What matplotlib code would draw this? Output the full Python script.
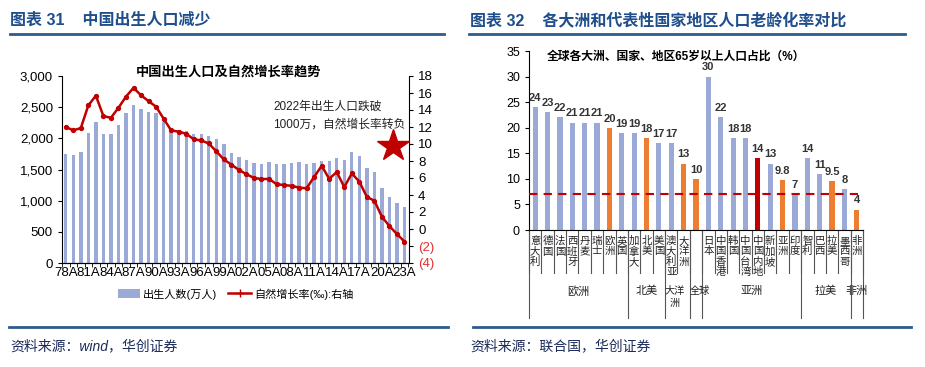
import matplotlib
matplotlib.use("Agg")
import matplotlib.pyplot as plt
from matplotlib.lines import Line2D
from matplotlib.patches import Patch
import numpy as np

plt.rcParams['font.family'] = ['Liberation Sans', 'Noto Sans CJK SC', 'DejaVu Sans']
plt.rcParams['axes.unicode_minus'] = False

# ---------------- data: left chart ----------------
years = list(range(1978, 2024))
births = [1741, 1725, 1784, 2079, 2261, 2063, 2063, 2218, 2405, 2539,
          2470, 2427, 2400, 2258, 2125, 2132, 2110, 2063, 2067, 2038,
          1991, 1909, 1771, 1702, 1647, 1599, 1593, 1617, 1584, 1594,
          1608, 1615, 1588, 1600, 1635, 1640, 1683, 1655, 1786, 1723,
          1523, 1465, 1202, 1062, 956, 902]
growth = [12.00, 11.61, 11.87, 14.55, 15.68, 13.29, 13.08, 14.26, 15.57, 16.61,
          15.73, 15.04, 14.39, 12.98, 11.60, 11.45, 11.21, 10.55, 10.42, 10.06,
          9.14, 8.18, 7.58, 6.95, 6.45, 6.01, 5.87, 5.89, 5.28, 5.17,
          5.08, 4.87, 4.79, 6.13, 7.43, 5.90, 6.71, 4.93, 6.53, 5.58,
          3.78, 3.32, 1.45, 0.34, -0.60, -1.48]
left_yticks = [0, 500, 1000, 1500, 2000, 2500, 3000]
right_yticks = [-4, -2, 0, 2, 4, 6, 8, 10, 12, 14, 16, 18]

# ---------------- data: right chart ----------------
countries = ['意大利', '德国', '法国', '西班牙', '丹麦', '瑞士', '欧洲', '英国',
             '加拿大', '北美', '美国', '澳大利亚', '大洋洲', '',
             '日本', '中国香港', '韩国', '中国台湾', '中国内地', '新加坡', '亚洲', '印度',
             '智利', '巴西', '拉美', '墨西哥', '非洲']
aging = [24, 23, 22, 21, 21, 21, 20, 19, 19, 18, 17, 17, 13, 10,
         30, 22, 18, 18, 14, 13, 9.8, 7, 14, 11, 9.5, 8, 4]
value_labels = ['24', '23', '22', '21', '21', '21', '20', '19', '19', '18', '17', '17', '13', '10',
                '30', '22', '18', '18', '14', '13', '9.8', '7', '14', '11', '9.5', '8', '4']
bar_kind = ['c', 'c', 'c', 'c', 'c', 'c', 'r', 'c', 'c', 'r', 'c', 'c', 'r', 'r',
            'c', 'c', 'c', 'c', 'cn', 'c', 'r', 'c', 'c', 'c', 'r', 'c', 'r']
groups = ['欧洲', '北美', '大洋\n洲', '全球', '亚洲', '拉美', '非洲']
group_sizes = [8, 3, 2, 1, 8, 4, 1]
global_avg = 7

BLUE = '#9AA9D6'
ORANGE = '#ED7D31'
RED = '#C00000'
NAVY = '#1F4E8C'

fig = plt.figure(figsize=(9.25, 3.67), dpi=100)

# ---------------- headers ----------------
fig.text(10/925, 1-20/367, '图表 31    中国出生人口减少', fontsize=11.5, fontweight='bold',
         color=NAVY, va='center', ha='left')
fig.text(470/925, 1-20/367, '图表 32    各大洲和代表性国家地区人口老龄化率对比', fontsize=11.5,
         fontweight='bold', color=NAVY, va='center', ha='left')
fig.add_artist(Line2D([10/925, 444/925], [1-34/367]*2, color='#2E5C8A', lw=2))
fig.add_artist(Line2D([469/925, 905/925], [1-34/367]*2, color='#2E5C8A', lw=2))
fig.add_artist(Line2D([9/925, 448/925], [1-327/367]*2, color='#2E5C8A', lw=2))
fig.add_artist(Line2D([473/925, 911/925], [1-327/367]*2, color='#2E5C8A', lw=2))
fig.text(10/925, 1-346/367, '资料来源：wind，华创证券', fontsize=10, style='italic',
         color='#1a2a5a', va='center', ha='left')
fig.text(470/925, 1-346/367, '资料来源：联合国，华创证券', fontsize=10, style='italic',
         color='#1a2a5a', va='center', ha='left')

# ---------------- left chart ----------------
ax1 = fig.add_axes([62/925, 1-263/367, (409-62)/925, (263-76)/367])
x = np.arange(len(years))
ax1.bar(x, births, width=0.45, color=BLUE, zorder=2)
ax1.set_ylim(0, 3000)
ax1.set_xlim(-0.5, len(years) - 0.4)
ax1.set_yticks(left_yticks)
ax1.set_yticklabels([f'{v:,}' for v in left_yticks], fontsize=9.5)
ax1.set_xticks(x[::3])
ax1.set_xticklabels([f'{y % 100:02d}A' for y in years[::3]], fontsize=9.5)
ax1.set_xticks(np.arange(-0.5, len(years), 1), minor=True)
ax1.tick_params(axis='x', which='major', length=0, pad=3)
ax1.tick_params(axis='x', which='minor', length=3)
ax1.tick_params(axis='y', length=3)
ax1.spines['top'].set_visible(False)
ax1.spines['right'].set_visible(False)

ax2 = ax1.twinx()
ax2.plot(x, growth, color=RED, lw=1.8, marker='o', markersize=2.8, zorder=3)
ax2.set_ylim(-4, 18)
ax2.set_yticks(right_yticks)
ax2.set_yticklabels([f'({-v})' if v < 0 else f'{v}' for v in right_yticks], fontsize=9.5)
for lbl, v in zip(ax2.get_yticklabels(), right_yticks):
    if v < 0:
        lbl.set_color('#E03030')
ax2.tick_params(axis='y', length=3)
ax2.spines['top'].set_visible(False)
ax2.spines['left'].set_visible(False)
ax2.plot([43.5], [9.8], marker='*', color=RED, markersize=24, clip_on=False, zorder=4)
ax2.text(27.6, 13.3, '2022年出生人口跌破\n1000万，自然增长率转负', fontsize=8.5,
         ha='left', va='center', linespacing=1.7, color='#222222')
ax1.text(0.48, 1.02, '中国出生人口及自然增长率趋势', transform=ax1.transAxes, fontsize=9.5,
         fontweight='bold', ha='center', va='center')

handles = [Patch(facecolor=BLUE, edgecolor='none'),
           Line2D([0], [0], color=RED, lw=1.8, marker='+', markersize=6)]
ax1.legend(handles, ['出生人数(万人)', '自然增长率(‰):右轴'], ncol=2, frameon=False,
           loc='center', bbox_to_anchor=(0.5, -0.165), fontsize=8, handlelength=2.0,
           handleheight=0.8, columnspacing=1.0, handletextpad=0.3)

# ---------------- right chart ----------------
ax3 = fig.add_axes([529/925, 1-230/367, (863-529)/925, (230-51)/367])
xc = np.arange(len(countries))
colors = [BLUE if k == 'c' else (ORANGE if k == 'r' else RED) for k in bar_kind]
ax3.bar(xc, aging, width=0.42, color=colors, zorder=2)
ax3.plot([-0.5, len(countries) - 0.9], [global_avg]*2, color=RED, lw=1.5,
         ls=(0, (4, 3)), zorder=3)
for xi, v, t in zip(xc, aging, value_labels):
    ax3.annotate(t, (xi, v), xytext=(0, 3), textcoords='offset points', ha='center',
                 va='bottom', fontsize=8, fontweight='bold', color='#333333')
ax3.set_xlim(-0.5, len(countries) - 0.5)
ax3.set_ylim(0, 35)
ax3.set_yticks(range(0, 36, 5))
ax3.set_yticklabels([str(v) for v in range(0, 36, 5)], fontsize=9)
ax3.set_xticks([])
ax3.tick_params(axis='y', length=3)
ax3.spines['top'].set_visible(False)
ax3.spines['right'].set_visible(False)
ax3.text(0.054, (230-57)/179, '全球各大洲、国家、地区65岁以上人口占比（%）', transform=ax3.transAxes,
         fontsize=8.5, fontweight='bold', ha='left', va='center')

tr = ax3.get_xaxis_transform()
ax_h = 230 - 51
for xi, name in zip(xc, countries):
    if name:
        ax3.text(xi, -6/ax_h, '\n'.join(name), transform=tr, ha='center', va='top',
                 fontsize=7.5, linespacing=1.05, clip_on=False, color='#222222')
# category separators
for b in np.arange(-0.5, len(countries), 1):
    ax3.add_line(Line2D([b, b], [0, -43/ax_h], transform=tr, color='#555555', lw=0.8,
                        clip_on=False))
# group separators and labels
start = -0.5
bounds = [start]
for gs in group_sizes:
    start += gs
    bounds.append(start)
for b in bounds:
    ax3.add_line(Line2D([b, b], [0, -88/ax_h], transform=tr, color='#555555', lw=0.8,
                        clip_on=False))
group_shift = [0, 0, -0.25, 0.35, 0, 0, 0]
for g, a, b, s in zip(groups, bounds[:-1], bounds[1:], group_shift):
    fs = 7.3 if s != 0 else 8
    ax3.text((a + b) / 2 + s, -56/ax_h, g, transform=tr, ha='center', va='top',
             fontsize=fs, linespacing=1.3, clip_on=False, color='#222222')

fig.savefig('out.png', dpi=100)
